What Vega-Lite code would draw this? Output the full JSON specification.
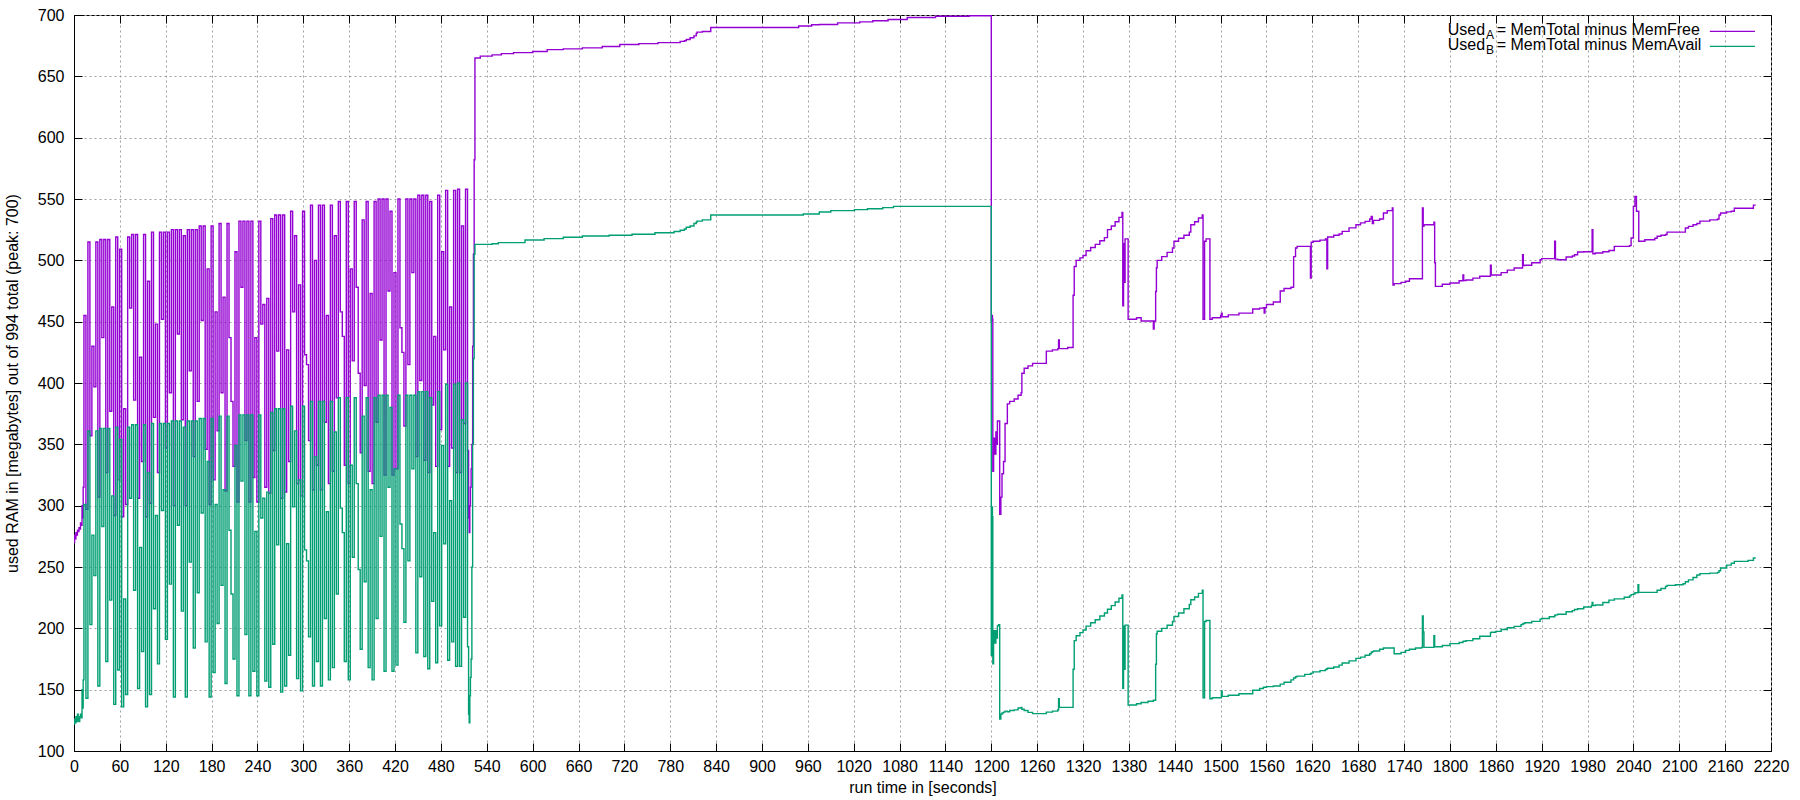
{
"$schema": "https://vega.github.io/schema/vega-lite/v6.json",
"width": 1697, "height": 736,
"autosize": {"type": "none"},
"padding": {"left": 74, "top": 15, "right": 29, "bottom": 49},
"background": "white",
"config": {
 "font": "Liberation Sans",
 "view": {"stroke": "black", "strokeWidth": 1},
 "axis": {"labelFont": "Liberation Sans", "labelFontSize": 16, "labelColor": "#000", "titleFont": "Liberation Sans", "titleFontSize": 16, "titleFontWeight": "normal", "titleColor": "#000", "domainColor": "#000", "domainWidth": 1, "tickColor": "#000", "tickWidth": 1, "tickSize": -8, "gridColor": "#a0a0a0", "gridDash": [2, 3], "gridWidth": 1, "gridOpacity": 1, "labelFlush": false, "labelOverlap": false, "format": "d"}
},
"resolve": {"axis": {"x": "independent", "y": "independent"}},
"datasets": {"mem": [
{"t":0,"a":270,"b":122},{"t":0.8,"a":276,"b":126},{"t":1.5,"a":273,"b":123},{"t":2.5,"a":278,"b":128},{"t":3.5,"a":276,"b":124},{"t":4.5,"a":280,"b":130},{"t":5.5,"a":279,"b":126},{"t":6.5,"a":282,"b":124},{"t":7.5,"a":281,"b":128},{"t":8.5,"a":286,"b":130},{"t":9.5,"a":284,"b":127},{"t":10.5,"a":300,"b":150},{"t":11.3,"a":290,"b":135},{"t":12,"a":315,"b":158},
{"t":13,"a":455,"b":301},{"t":15.6,"a":297,"b":143},
{"t":18.2,"a":515,"b":361},{"t":20.8,"a":357,"b":203},
{"t":23.4,"a":430,"b":276},{"t":26,"a":397,"b":243},
{"t":28.6,"a":515,"b":361},{"t":31.2,"a":307,"b":153},
{"t":33.8,"a":517,"b":363},{"t":36.4,"a":437,"b":283},
{"t":39,"a":517,"b":363},{"t":41.6,"a":327,"b":173},
{"t":44.2,"a":517,"b":363},{"t":46.8,"a":377,"b":223},
{"t":49.4,"a":462,"b":308},{"t":52,"a":292,"b":138},
{"t":54.6,"a":519,"b":364},{"t":57.2,"a":321,"b":166},
{"t":59.8,"a":509,"b":354},{"t":62.4,"a":291,"b":136},
{"t":65,"a":379,"b":224},{"t":67.6,"a":301,"b":146},
{"t":70.2,"a":519,"b":364},{"t":72.8,"a":461,"b":306},
{"t":75.4,"a":521,"b":366},{"t":78,"a":386,"b":231},
{"t":80.6,"a":521,"b":366},{"t":83.2,"a":306,"b":151},
{"t":85.8,"a":421,"b":266},{"t":88.4,"a":336,"b":181},
{"t":91,"a":521,"b":366},{"t":93.6,"a":291,"b":136},
{"t":96.2,"a":483,"b":327},{"t":98.8,"a":302,"b":146},
{"t":101.4,"a":523,"b":367},{"t":104,"a":372,"b":216},
{"t":106.6,"a":448,"b":292},{"t":109.2,"a":327,"b":171},
{"t":111.8,"a":523,"b":367},{"t":114.4,"a":452,"b":296},
{"t":117,"a":523,"b":367},{"t":119.6,"a":347,"b":191},
{"t":122.2,"a":523,"b":367},{"t":124.8,"a":392,"b":236},
{"t":127.4,"a":525,"b":369},{"t":130,"a":300,"b":144},
{"t":132.6,"a":525,"b":369},{"t":135.2,"a":440,"b":284},
{"t":137.8,"a":525,"b":369},{"t":140.4,"a":370,"b":214},
{"t":143,"a":520,"b":364},{"t":145.6,"a":300,"b":144},
{"t":148.2,"a":525,"b":369},{"t":150.8,"a":410,"b":254},
{"t":153.4,"a":525,"b":369},{"t":156,"a":340,"b":184},
{"t":158.6,"a":525,"b":369},{"t":161.2,"a":385,"b":229},
{"t":163.8,"a":528,"b":371},{"t":166.4,"a":451,"b":294},
{"t":169,"a":528,"b":371},{"t":171.6,"a":346,"b":189},
{"t":174.2,"a":493,"b":336},{"t":176.8,"a":301,"b":144},
{"t":179.4,"a":528,"b":371},{"t":182,"a":321,"b":164},
{"t":184.6,"a":458,"b":301},{"t":187.2,"a":361,"b":204},
{"t":189.8,"a":530,"b":373},{"t":192.4,"a":392,"b":235},
{"t":195,"a":470,"b":313},{"t":197.6,"a":312,"b":155},
{"t":200.2,"a":530,"b":373},{"t":202.8,"a":437,"b":280},
{"t":205.4,"a":385,"b":228},{"t":208,"a":332,"b":175},
{"t":210.6,"a":507,"b":349},{"t":213.2,"a":303,"b":145},
{"t":215.8,"a":532,"b":374},{"t":218.4,"a":478,"b":320},
{"t":221,"a":532,"b":374},{"t":223.6,"a":353,"b":195},
{"t":226.2,"a":532,"b":374},{"t":228.8,"a":303,"b":145},
{"t":231.4,"a":532,"b":374},{"t":234,"a":323,"b":165},
{"t":236.6,"a":437,"b":279},{"t":239.2,"a":303,"b":145},
{"t":241.8,"a":532,"b":374},{"t":244.4,"a":448,"b":290},
{"t":247,"a":464,"b":306},{"t":249.6,"a":315,"b":157},
{"t":252.2,"a":469,"b":311},{"t":254.8,"a":310,"b":152},
{"t":257.4,"a":534,"b":376},{"t":260,"a":345,"b":187},
{"t":262.6,"a":537,"b":379},{"t":265.2,"a":426,"b":268},
{"t":267.8,"a":537,"b":379},{"t":270.4,"a":306,"b":148},
{"t":273,"a":537,"b":379},{"t":275.6,"a":311,"b":153},
{"t":278.2,"a":427,"b":269},{"t":280.8,"a":336,"b":178},
{"t":283.4,"a":540,"b":381},{"t":286,"a":458,"b":299},
{"t":288.6,"a":520,"b":361},{"t":291.2,"a":318,"b":159},
{"t":293.8,"a":480,"b":321},{"t":296.4,"a":308,"b":149},
{"t":299,"a":540,"b":381},{"t":301.6,"a":423,"b":264},
{"t":304.2,"a":415,"b":255},{"t":306.8,"a":353,"b":193},
{"t":309.4,"a":545,"b":385},{"t":312,"a":313,"b":153},
{"t":314.6,"a":500,"b":340},{"t":317.2,"a":333,"b":173},
{"t":319.8,"a":545,"b":385},{"t":322.4,"a":313,"b":153},
{"t":325,"a":545,"b":385},{"t":327.6,"a":368,"b":208},
{"t":330.2,"a":455,"b":295},{"t":332.8,"a":318,"b":158},
{"t":335.4,"a":545,"b":385},{"t":338,"a":328,"b":168},
{"t":340.6,"a":520,"b":360},{"t":343.2,"a":388,"b":228},
{"t":345.8,"a":548,"b":388},{"t":348.4,"a":458,"b":298},
{"t":351,"a":438,"b":278},{"t":353.6,"a":333,"b":173},
{"t":356.2,"a":548,"b":388},{"t":358.8,"a":318,"b":158},
{"t":361.4,"a":493,"b":333},{"t":364,"a":418,"b":258},
{"t":366.6,"a":548,"b":388},{"t":369.2,"a":478,"b":318},
{"t":371.8,"a":408,"b":248},{"t":374.4,"a":343,"b":183},
{"t":377,"a":533,"b":373},{"t":379.6,"a":398,"b":238},
{"t":382.2,"a":548,"b":388},{"t":384.8,"a":328,"b":168},
{"t":387.4,"a":473,"b":313},{"t":390,"a":318,"b":158},
{"t":392.6,"a":548,"b":388},{"t":395.2,"a":368,"b":208},
{"t":397.8,"a":550,"b":390},{"t":400.4,"a":435,"b":275},
{"t":403,"a":550,"b":390},{"t":405.6,"a":325,"b":165},
{"t":408.2,"a":550,"b":390},{"t":410.8,"a":475,"b":315},
{"t":413.4,"a":540,"b":380},{"t":416,"a":325,"b":165},
{"t":418.6,"a":490,"b":330},{"t":421.2,"a":330,"b":170},
{"t":423.8,"a":550,"b":390},{"t":426.4,"a":445,"b":285},
{"t":429,"a":425,"b":265},{"t":431.6,"a":365,"b":205},
{"t":434.2,"a":550,"b":390},{"t":436.8,"a":415,"b":255},
{"t":439.4,"a":550,"b":390},{"t":442,"a":490,"b":330},
{"t":444.6,"a":550,"b":390},{"t":447.2,"a":340,"b":180},
{"t":449.8,"a":553,"b":393},{"t":452.4,"a":402,"b":242},
{"t":455,"a":553,"b":393},{"t":457.6,"a":337,"b":177},
{"t":460.2,"a":553,"b":393},{"t":462.8,"a":327,"b":167},
{"t":465.4,"a":548,"b":388},{"t":468,"a":382,"b":222},
{"t":470.6,"a":438,"b":278},{"t":473.2,"a":332,"b":172},
{"t":475.8,"a":553,"b":393},{"t":478.4,"a":362,"b":202},
{"t":481,"a":507,"b":349},{"t":483.6,"a":427,"b":269},
{"t":486.2,"a":557,"b":399},{"t":488.8,"a":332,"b":174},
{"t":491.4,"a":462,"b":304},{"t":494,"a":347,"b":189},
{"t":496.6,"a":557,"b":399},{"t":499.2,"a":327,"b":169},
{"t":501.8,"a":558,"b":400},{"t":504.4,"a":327,"b":169},
{"t":507,"a":528,"b":370},{"t":509.6,"a":367,"b":209},
{"t":512.2,"a":558,"b":400},{"t":514.8,"a":345,"b":185},
{"t":516.2,"a":290,"b":130},{"t":517,"a":278,"b":123},{"t":517.8,"a":300,"b":145},{"t":518.6,"a":315,"b":160},{"t":519.5,"a":330,"b":175},{"t":520.5,"a":350,"b":250},{"t":521.5,"a":430,"b":350},{"t":522.5,"a":505,"b":420},{"t":523.5,"a":582,"b":505},
{"t":524.5,"a":665,"b":513},{"t":531.5,"a":666.5,"b":513},{"t":547,"a":667.5,"b":513.5},{"t":555,"a":667.5,"b":514.4},{"t":559,"a":668.5,"b":514.4},{"t":575,"a":669.3,"b":514.4},{"t":590,"a":669.3,"b":516.6},{"t":600,"a":670.2,"b":516.6},{"t":615,"a":670.2,"b":517.7},{"t":619,"a":671.8,"b":517.7},{"t":640,"a":672.4,"b":518.8},{"t":665,"a":673.2,"b":519.8},{"t":691,"a":674.3,"b":519.8},{"t":700,"a":674.3,"b":520.5},{"t":714,"a":675.9,"b":520.5},{"t":730,"a":675.9,"b":521.3},{"t":739,"a":676.7,"b":521.3},{"t":760,"a":676.7,"b":522.5},{"t":764,"a":677.5,"b":522.5},{"t":785,"a":677.5,"b":523.5},{"t":793,"a":678.5,"b":524.5},{"t":798.5,"a":679,"b":525.6},{"t":801,"a":680,"b":527},{"t":806,"a":681.4,"b":528},{"t":811,"a":683,"b":530},{"t":814,"a":685,"b":531},{"t":815,"a":686,"b":532},{"t":822,"a":686.6,"b":533},{"t":833,"a":689.8,"b":537},{"t":948,"a":691,"b":537},{"t":954,"a":691,"b":537.8},{"t":965,"a":692,"b":537.8},{"t":975,"a":692.3,"b":539.4},{"t":990,"a":692.3,"b":540.5},{"t":999,"a":693.6,"b":540.5},{"t":1021,"a":693.6,"b":541.3},{"t":1028,"a":694.4,"b":541.3},{"t":1038,"a":694.4,"b":542},{"t":1045,"a":695.3,"b":542},{"t":1058,"a":695.3,"b":543},{"t":1065,"a":696.3,"b":543},{"t":1072,"a":696.3,"b":544},{"t":1090,"a":698,"b":544},{"t":1127,"a":699,"b":544},{"t":1171,"a":699.4,"b":544},{"t":1199.5,"a":700,"b":544},
{"t":1200,"a":451,"b":178},{"t":1200.8,"a":455,"b":299},{"t":1201.5,"a":452,"b":291},{"t":1202,"a":328,"b":171},{"t":1203,"a":355,"b":198},{"t":1204.5,"a":342,"b":188},{"t":1206,"a":360,"b":198},{"t":1207,"a":350,"b":192},{"t":1208,"a":369,"b":202},{"t":1209.5,"a":369,"b":203},{"t":1211,"a":293,"b":126},{"t":1212.5,"a":307,"b":130},{"t":1214,"a":326,"b":131},{"t":1216,"a":336,"b":131.7},{"t":1218,"a":367,"b":132.5},{"t":1221,"a":383,"b":132},{"t":1224,"a":385,"b":133},{"t":1230,"a":387,"b":133.5},{"t":1235,"a":390,"b":135},{"t":1239,"a":392,"b":135.6},{"t":1240,"a":408,"b":134},{"t":1243,"a":412,"b":133},{"t":1248,"a":414,"b":131.5},{"t":1254,"a":416,"b":130.5},{"t":1272,"a":426,"b":131.7},{"t":1280,"a":427,"b":132.5},{"t":1287,"a":428,"b":133.6},{"t":1288,"a":435,"b":142.6},{"t":1289,"a":428,"b":135.6},{"t":1300,"a":429,"b":135.6},{"t":1307,"a":471.5,"b":166.7},{"t":1308.5,"a":495,"b":190},{"t":1311,"a":500,"b":194},{"t":1316,"a":502,"b":196.5},{"t":1320,"a":504,"b":198.7},{"t":1324,"a":507.8,"b":201.8},{"t":1330,"a":510.5,"b":204.5},{"t":1336,"a":513,"b":207},{"t":1342,"a":516,"b":210},{"t":1348,"a":518.5,"b":212.5},{"t":1352,"a":525,"b":215.5},{"t":1357,"a":528,"b":218.5},{"t":1362,"a":531.5,"b":221.5},{"t":1367,"a":535,"b":224.5},{"t":1371,"a":539,"b":227.2},{"t":1372,"a":463,"b":151.2},{"t":1373,"a":513.6,"b":201.8},{"t":1374,"a":482,"b":166.7},{"t":1375,"a":517.5,"b":202.6},{"t":1379,"a":452,"b":137.5},{"t":1390,"a":453.2,"b":138.5},{"t":1396,"a":450.5,"b":139.5},{"t":1405,"a":450.5,"b":140.5},{"t":1412,"a":444,"b":141.4},{"t":1413,"a":450.5,"b":141.4},{"t":1415,"a":474.6,"b":170.7},{"t":1416,"a":494,"b":195.6},{"t":1417,"a":500,"b":197.6},{"t":1423,"a":503,"b":200},{"t":1430,"a":506.5,"b":202.5},{"t":1437,"a":510,"b":205.6},{"t":1439,"a":515.6,"b":209.6},{"t":1445,"a":518,"b":212.5},{"t":1452,"a":520.5,"b":216},{"t":1459,"a":523,"b":219.4},{"t":1461,"a":529,"b":223.3},{"t":1466,"a":531.5,"b":225.5},{"t":1471,"a":534.5,"b":228.5},{"t":1476,"a":537,"b":231.1},{"t":1477,"a":452,"b":143.4},{"t":1479,"a":515.6,"b":205.6},{"t":1481,"a":517.5,"b":206.4},{"t":1486,"a":452,"b":142.6},{"t":1489,"a":453.2,"b":143.4},{"t":1500,"a":455,"b":143.4},{"t":1501,"a":457,"b":149},{"t":1502,"a":454,"b":144.5},{"t":1510,"a":455.5,"b":145.5},{"t":1524,"a":457,"b":146.7},{"t":1542,"a":460.3,"b":149.5},{"t":1551,"a":461,"b":151},{"t":1556,"a":461.4,"b":152},{"t":1557,"a":457,"b":152},{"t":1558,"a":461.4,"b":152},{"t":1560,"a":464,"b":152.5},{"t":1569,"a":466,"b":153},{"t":1578,"a":475,"b":154.5},{"t":1583,"a":477,"b":156},{"t":1592,"a":478,"b":158},{"t":1595.5,"a":503,"b":159.5},{"t":1598,"a":510,"b":160.5},{"t":1600,"a":511.4,"b":161},{"t":1610,"a":511.4,"b":162.5},{"t":1617.5,"a":485.6,"b":163},{"t":1618.5,"a":514.7,"b":163.5},{"t":1621,"a":515.5,"b":164.5},{"t":1630,"a":516.5,"b":165.5},{"t":1637,"a":517.4,"b":166.5},{"t":1639,"a":493,"b":167},{"t":1640,"a":519,"b":167.5},{"t":1648,"a":520.5,"b":168.5},{"t":1655,"a":521.5,"b":170},{"t":1659,"a":523.6,"b":171.7},{"t":1668,"a":526.5,"b":173.5},{"t":1677,"a":529,"b":175.5},{"t":1683,"a":530.5,"b":176.5},{"t":1689,"a":531.8,"b":178},{"t":1695,"a":533.7,"b":179.3},{"t":1697,"a":535.8,"b":180.5},{"t":1698.5,"a":529.9,"b":181},{"t":1700,"a":532.6,"b":181.5},{"t":1708,"a":533.7,"b":183},{"t":1713,"a":538.6,"b":184},{"t":1718,"a":540.5,"b":184},{"t":1724.6,"a":542.7,"b":184},{"t":1725.5,"a":479.8,"b":184},{"t":1727,"a":481,"b":179.3},{"t":1736,"a":482,"b":180.4},{"t":1742,"a":483,"b":182},{"t":1747,"a":485,"b":183},{"t":1755,"a":485,"b":184},{"t":1763,"a":485,"b":184.5},{"t":1764,"a":542.7,"b":210},{"t":1765,"a":527.7,"b":197},{"t":1766,"a":529,"b":184.5},{"t":1779,"a":531,"b":194},{"t":1780,"a":498,"b":185},{"t":1781,"a":478.8,"b":185},{"t":1790,"a":480.5,"b":186},{"t":1800,"a":481.5,"b":187.5},{"t":1812,"a":483.4,"b":188.5},{"t":1817,"a":488,"b":189.4},{"t":1818,"a":483.5,"b":189.5},{"t":1821,"a":484,"b":190},{"t":1830,"a":485.5,"b":191.5},{"t":1839,"a":487,"b":193.5},{"t":1853,"a":496,"b":196.5},{"t":1854,"a":488,"b":196.8},{"t":1860,"a":488,"b":197.5},{"t":1867,"a":490,"b":199},{"t":1875,"a":492,"b":200.5},{"t":1884,"a":493.7,"b":201.6},{"t":1893,"a":493.7,"b":203},{"t":1895,"a":504.6,"b":203.5},{"t":1896,"a":495.7,"b":204},{"t":1898,"a":496,"b":204.5},{"t":1907,"a":498,"b":205.7},{"t":1918,"a":500.5,"b":207.5},{"t":1920,"a":501.4,"b":208},{"t":1930,"a":501.4,"b":209.5},{"t":1937,"a":515.5,"b":210.5},{"t":1938,"a":501,"b":211},{"t":1941,"a":500.5,"b":211.5},{"t":1952,"a":502.7,"b":213.5},{"t":1960,"a":503.5,"b":214.4},{"t":1963,"a":504.6,"b":215.3},{"t":1967,"a":506.8,"b":216},{"t":1975,"a":507,"b":217.4},{"t":1985,"a":507.3,"b":218.5},{"t":1986,"a":525,"b":221},{"t":1987,"a":505.4,"b":218.5},{"t":1990,"a":506,"b":219},{"t":2000,"a":507,"b":221},{"t":2008,"a":508,"b":223},{"t":2015,"a":511.4,"b":224},{"t":2028,"a":511.4,"b":225.3},{"t":2035,"a":512,"b":226.5},{"t":2037,"a":518.2,"b":227.5},{"t":2040,"a":544,"b":228},{"t":2042,"a":552,"b":229},{"t":2044,"a":540,"b":229},{"t":2046,"a":540,"b":235.6},{"t":2047,"a":515.5,"b":229.3},{"t":2055,"a":516.8,"b":229.3},{"t":2068,"a":518,"b":229.3},{"t":2071,"a":519.6,"b":231},{"t":2076,"a":520.5,"b":232.5},{"t":2082,"a":521,"b":234.2},{"t":2084,"a":523,"b":235},{"t":2095,"a":523,"b":235.5},{"t":2105,"a":523,"b":236.4},{"t":2108,"a":526.4,"b":238},{"t":2112,"a":527.7,"b":239.5},{"t":2118,"a":529,"b":241.5},{"t":2123,"a":530,"b":243.5},{"t":2127,"a":532,"b":244.6},{"t":2140,"a":533,"b":245},{"t":2150,"a":533.7,"b":245.6},{"t":2152,"a":537,"b":247},{"t":2154,"a":538.6,"b":249.2},{"t":2162,"a":539.5,"b":251.5},{"t":2168,"a":540,"b":253},{"t":2172,"a":542.4,"b":254.6},{"t":2190,"a":542.4,"b":255.4},{"t":2197,"a":545,"b":257.3},{"t":2200,"a":545,"b":257.3}
]},
"layer": [
 {"data": {"name": "mem"},
  "mark": {"type": "line", "interpolate": "step-after", "color": "#9400D3", "strokeWidth": 1.4, "clip": true},
  "encoding": {
   "x": {"field": "t", "type": "quantitative", "scale": {"domain": [0, 2220], "nice": false, "zero": false},
    "axis": {"orient": "bottom", "values": [0,60,120,180,240,300,360,420,480,540,600,660,720,780,840,900,960,1020,1080,1140,1200,1260,1320,1380,1440,1500,1560,1620,1680,1740,1800,1860,1920,1980,2040,2100,2160,2220], "grid": true, "title": "run time in [seconds]", "labelPadding": 15, "titleY": 41, "titleBaseline": "alphabetic"}},
   "y": {"field": "a", "type": "quantitative", "scale": {"domain": [100, 700], "nice": false, "zero": false},
    "axis": {"orient": "left", "values": [100,150,200,250,300,350,400,450,500,550,600,650,700], "grid": true, "title": "used RAM in [megabytes] out of 994 total (peak: 700)", "labelPadding": 18, "titleX": -61.5, "titleBaseline": "middle"}}
  }},
 {"data": {"name": "mem"},
  "mark": {"type": "line", "interpolate": "step-after", "color": "#009E73", "strokeWidth": 1.4, "clip": true},
  "encoding": {
   "x": {"field": "t", "type": "quantitative", "scale": {"domain": [0, 2220], "nice": false, "zero": false}, "axis": null},
   "y": {"field": "b", "type": "quantitative", "scale": {"domain": [100, 700], "nice": false, "zero": false}, "axis": null}
  }},
 {"data": {"values": [{}]},
  "mark": {"type": "rule", "color": "#9400D3", "strokeWidth": 1.2},
  "encoding": {
   "x": {"datum": 2140, "type": "quantitative", "scale": {"domain": [0, 2220], "nice": false, "zero": false},
    "axis": {"orient": "top", "values": [0,60,120,180,240,300,360,420,480,540,600,660,720,780,840,900,960,1020,1080,1140,1200,1260,1320,1380,1440,1500,1560,1620,1680,1740,1800,1860,1920,1980,2040,2100,2160,2220], "labels": false, "grid": false, "domain": false, "title": null}},
   "x2": {"datum": 2199},
   "y": {"datum": 686.7, "type": "quantitative", "scale": {"domain": [100, 700], "nice": false, "zero": false},
    "axis": {"orient": "right", "values": [100,150,200,250,300,350,400,450,500,550,600,650,700], "labels": false, "grid": false, "domain": false, "title": null}}
  }},
 {"data": {"values": [{}]},
  "mark": {"type": "rule", "color": "#009E73", "strokeWidth": 1.2},
  "encoding": {
   "x": {"datum": 2140, "type": "quantitative", "axis": null},
   "x2": {"datum": 2199},
   "y": {"datum": 674.5, "type": "quantitative", "axis": null}
  }},
 {"data": {"values": [{}]},
  "mark": {"type": "text", "text": "Used", "align": "right", "baseline": "alphabetic", "fontSize": 16, "font": "Liberation Sans", "color": "#000"},
  "encoding": {"x": {"datum": 1846, "type": "quantitative", "axis": null}, "y": {"datum": 683.7, "type": "quantitative", "axis": null}}},
 {"data": {"values": [{}]},
  "mark": {"type": "text", "text": "A", "align": "left", "baseline": "alphabetic", "fontSize": 12, "font": "Liberation Sans", "color": "#000"},
  "encoding": {"x": {"datum": 1847.2, "type": "quantitative", "axis": null}, "y": {"datum": 680.4, "type": "quantitative", "axis": null}}},
 {"data": {"values": [{}]},
  "mark": {"type": "text", "text": "= MemTotal minus MemFree", "align": "left", "baseline": "alphabetic", "fontSize": 16, "font": "Liberation Sans", "color": "#000"},
  "encoding": {"x": {"datum": 1861.2, "type": "quantitative", "axis": null}, "y": {"datum": 683.7, "type": "quantitative", "axis": null}}},
 {"data": {"values": [{}]},
  "mark": {"type": "text", "text": "Used", "align": "right", "baseline": "alphabetic", "fontSize": 16, "font": "Liberation Sans", "color": "#000"},
  "encoding": {"x": {"datum": 1846, "type": "quantitative", "axis": null}, "y": {"datum": 671.5, "type": "quantitative", "axis": null}}},
 {"data": {"values": [{}]},
  "mark": {"type": "text", "text": "B", "align": "left", "baseline": "alphabetic", "fontSize": 12, "font": "Liberation Sans", "color": "#000"},
  "encoding": {"x": {"datum": 1847.2, "type": "quantitative", "axis": null}, "y": {"datum": 668.2, "type": "quantitative", "axis": null}}},
 {"data": {"values": [{}]},
  "mark": {"type": "text", "text": "= MemTotal minus MemAvail", "align": "left", "baseline": "alphabetic", "fontSize": 16, "font": "Liberation Sans", "color": "#000"},
  "encoding": {"x": {"datum": 1861.2, "type": "quantitative", "axis": null}, "y": {"datum": 671.5, "type": "quantitative", "axis": null}}}
]
}
